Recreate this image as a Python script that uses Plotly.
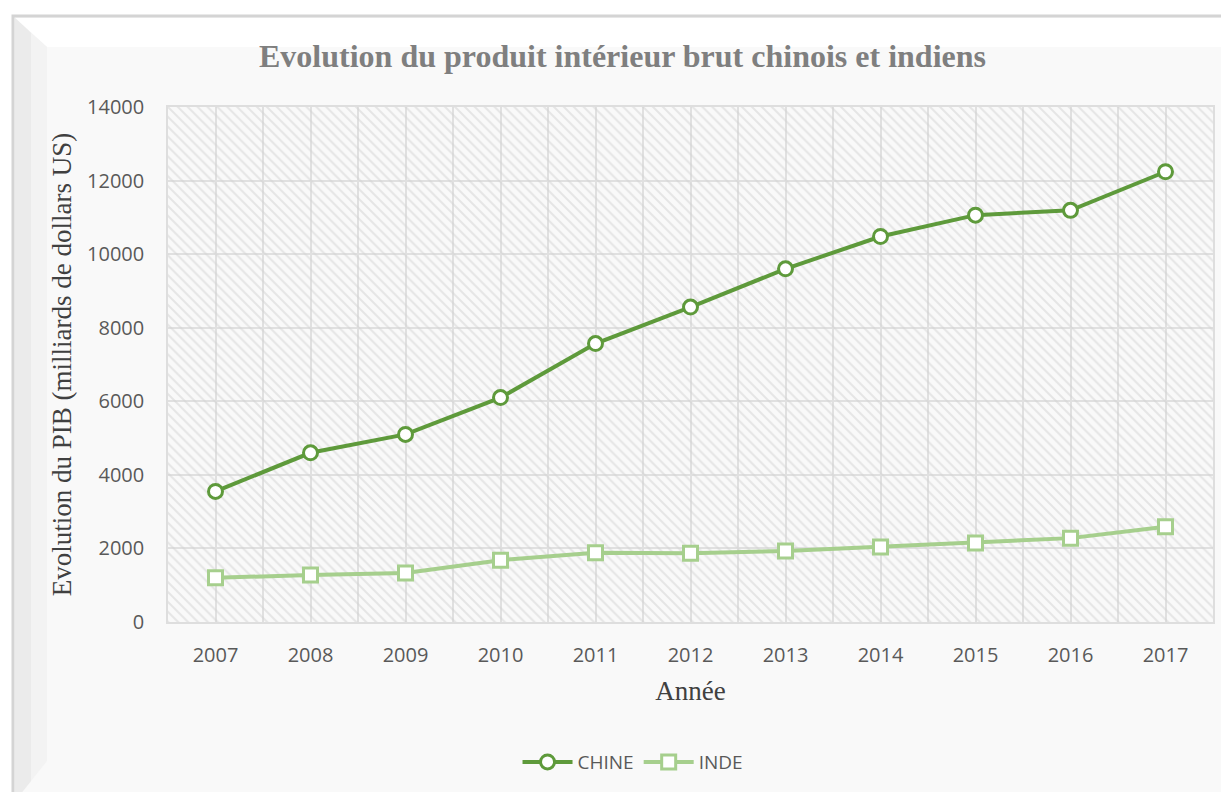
import plotly.graph_objects as go

# Données
annees = [2007, 2008, 2009, 2010, 2011, 2012, 2013, 2014, 2015, 2016, 2017]
chine = [3550, 4600, 5100, 6100, 7570, 8560, 9600, 10480, 11060, 11190, 12240]
inde = [1200, 1280, 1330, 1680, 1880, 1870, 1930, 2040, 2150, 2280, 2590]
y_ticks = [0, 2000, 4000, 6000, 8000, 10000, 12000, 14000]

fig = go.Figure()

# fond hachuré de la zone de tracé
fig.add_trace(go.Bar(
    x=annees, y=[max(y_ticks)] * len(annees), width=1,
    marker=dict(color="rgba(0,0,0,0)", line=dict(width=0),
                pattern=dict(shape="\\", fgcolor="#d2d2d2", bgcolor="rgba(0,0,0,0)",
                             size=7, solidity=0.3)),
    hoverinfo="skip", showlegend=False,
))

fig.add_trace(go.Scatter(
    x=annees, y=chine, name="CHINE", mode="lines+markers",
    line=dict(color="#5e9a3b", width=4),
    marker=dict(symbol="circle", size=14, color="white",
                line=dict(color="#5e9a3b", width=3)),
))
fig.add_trace(go.Scatter(
    x=annees, y=inde, name="INDE", mode="lines+markers",
    line=dict(color="#a6cf8d", width=4),
    marker=dict(symbol="square", size=14, color="white",
                line=dict(color="#a6cf8d", width=3)),
))


# cadre extérieur avec effet biseauté (coordonnées en pixels convertis en papier)
def px(x, y):
    return (x - 167) / 1045, (621 - y) / 515


def path(points):
    pts = [px(x, y) for x, y in points]
    return "M " + " L ".join(f"{a:.4f},{b:.4f}" for a, b in pts) + " Z"


x0, y0 = px(12, 15)
x1, y1 = px(1240, 800)
fig.add_shape(type="rect", xref="paper", yref="paper", x0=x0, x1=x1, y0=y1, y1=y0,
              line=dict(color="#d4d4d4", width=3), fillcolor="#f9f9f9", layer="below")
fig.add_shape(type="path", xref="paper", yref="paper", layer="below", line=dict(width=0),
              path=path([(14, 17), (1240, 17), (1240, 46), (46, 46)]), fillcolor="#ffffff")
fig.add_shape(type="path", xref="paper", yref="paper", layer="below", line=dict(width=0),
              path=path([(14, 17), (46, 46), (46, 760), (14, 800)]), fillcolor="#f3f3f3")
fig.add_shape(type="path", xref="paper", yref="paper", layer="below", line=dict(width=0),
              path=path([(14, 17), (30, 32), (30, 780), (14, 800)]), fillcolor="#ebebeb")

grid_x = [a + 0.5 for a in annees[:-1]]

fig.update_layout(
    width=1229, height=792,
    paper_bgcolor="white", plot_bgcolor="#fcfcfc",
    margin=dict(l=160, r=24, t=99, b=178),
    bargap=0,
    title=dict(text="<b>Evolution du produit intérieur brut chinois et indiens</b>",
               x=0.5, xanchor="center", y=0.94, yanchor="middle",
               font=dict(family="Liberation Serif", size=32, color="#7f7f7f")),
    xaxis=dict(range=[annees[0] - 0.5, annees[-1] + 0.5], tickvals=annees,
               showgrid=True, gridcolor="#e0e0e0", gridwidth=1.5, zeroline=False,
               tickfont=dict(family="Open Sans", size=20, color="#595959"),
               ticks="outside", ticklen=14, tickcolor="rgba(0,0,0,0)",
               title=dict(text="Année", standoff=14,
                          font=dict(family="Liberation Serif", size=27, color="#404040")),
               minor=dict(tickvals=grid_x, showgrid=True, gridcolor="#e0e0e0", gridwidth=1.5,
                          ticks=""),
               showline=True, linecolor="#dedede", mirror=True, linewidth=1.5),
    yaxis=dict(range=[0, 14000], tickvals=y_ticks, tickformat="d", showgrid=True,
               gridcolor="#e0e0e0", gridwidth=1.5, zeroline=False,
               tickfont=dict(family="Open Sans", size=20, color="#595959"),
               ticks="outside", ticklen=18, tickcolor="rgba(0,0,0,0)",
               title=dict(text="Evolution du PIB (milliards de dollars US)", standoff=8,
                          font=dict(family="Liberation Serif", size=27, color="#404040")),
               showline=True, linecolor="#dedede", mirror=True, linewidth=1.5),
    legend=dict(orientation="h", x=0.445, xanchor="center", y=-0.272, yanchor="middle",
                font=dict(family="Open Sans", size=19, color="#595959"),
                itemwidth=50, bgcolor="rgba(0,0,0,0)"),
)

fig.write_html("out.html")
